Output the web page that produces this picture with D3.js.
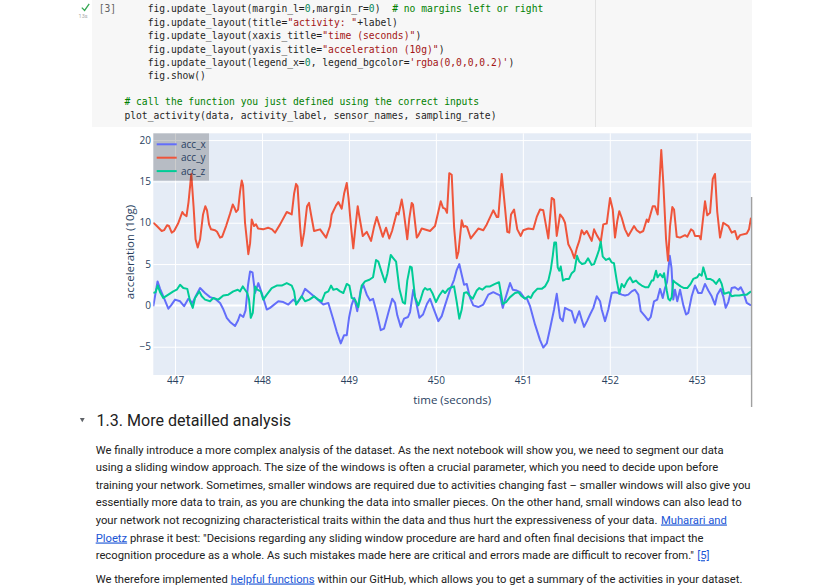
<!DOCTYPE html>
<html><head><meta charset="utf-8">
<script src="https://cdn.jsdelivr.net/npm/d3@7"></script>
<style>html,body{margin:0;padding:0;background:#fff;}svg{display:block;}</style>
</head><body>
<svg id="c" width="830" height="587"></svg>
<script>
// ---------------- data ----------------
const sensorNames = ["acc_x", "acc_y", "acc_z"];
const xTicks = [447, 448, 449, 450, 451, 452, 453];
const yTicks = [-5, 0, 5, 10, 15, 20];

const timeX = [446.750,446.799,446.828,446.865,446.923,446.954,447.000,447.058,447.104,447.153,
447.201,447.242,447.288,447.345,447.403,447.460,447.518,447.552,447.595,447.633,
447.690,447.725,447.748,447.785,447.811,447.840,447.863,447.891,447.920,447.958,
447.997,448.055,448.093,448.188,448.245,448.303,448.360,448.406,448.457,448.495,
448.553,448.630,448.705,448.763,448.814,448.860,448.906,448.944,448.975,449.001,
449.032,449.061,449.096,449.136,449.165,449.205,449.243,449.277,449.320,449.366,
449.404,449.453,449.498,449.530,449.556,449.596,449.634,449.680,449.703,449.740,
449.772,449.810,449.852,449.898,449.933,449.967,450.028,450.067,450.105,450.163,
450.209,450.240,450.269,450.297,450.324,450.355,450.393,450.430,450.488,450.545,
450.603,450.660,450.700,450.738,450.769,450.795,450.853,450.884,450.930,450.968,
451.017,451.048,451.083,451.140,451.198,451.235,451.275,451.313,451.359,451.390,
451.428,451.459,451.485,451.523,451.562,451.600,451.649,451.677,451.704,451.738,
451.773,451.811,451.850,451.888,451.907,451.945,451.983,452.022,452.060,452.098,
452.137,452.175,452.213,452.252,452.290,452.328,452.356,452.405,452.443,452.471,
452.509,452.546,452.578,452.609,452.635,452.658,452.690,452.710,452.730,452.750,
452.776,452.808,452.846,452.877,452.903,452.942,452.980,453.018,453.057,453.095,
453.133,453.172,453.210,453.236,453.276,453.305,453.333,453.363,453.402,453.440,
453.478,453.506,453.535,453.575,453.624];
const accX = [-0.1,2.9,2.0,1.1,-0.4,0.0,0.7,0.5,-0.1,0.8,
0.3,1.2,2.1,1.5,1.0,0.8,0.3,-0.4,-1.5,-2.0,
-2.5,-1.8,-1.1,-1.4,-0.6,2.5,4.1,4.0,1.5,2.7,
1.5,-0.5,-0.3,0.5,0.4,0.1,0.7,0.3,1.1,2.0,
1.5,0.8,0.1,0.3,-1.5,-3.2,-4.6,-3.6,-3.6,-1.5,
0.1,0.9,-0.7,1.9,2.5,1.3,0.6,0.8,-0.9,-3.0,
-2.8,-0.9,0.8,0.3,-1.2,-2.6,-1.6,-1.4,-0.8,1.9,
0.4,-1.5,-1.1,0.2,0.8,-0.2,-1.9,-1.3,0.0,1.9,
3.1,4.3,5.0,3.7,2.5,2.6,0.9,0.0,-0.2,0.1,
1.3,1.6,1.4,1.2,-0.3,0.7,2.7,1.9,1.8,1.6,
0.9,0.8,-0.1,-2.3,-4.2,-5.1,-4.6,-2.8,-0.5,1.4,
-1.5,-1.9,-0.3,-0.5,-0.7,-2.1,-0.7,-1.7,-2.6,-1.9,
-1.1,-0.3,1.1,0.5,-0.5,-1.9,-0.5,1.5,1.6,1.5,
1.3,1.2,1.3,1.7,1.9,1.3,-0.7,-1.3,-1.8,-1.4,
0.5,0.7,2.0,0.9,2.1,2.8,6.0,4.5,0.7,1.9,
0.5,1.9,0.0,-1.1,-0.9,1.1,2.4,1.5,1.5,2.6,
1.8,1.1,0.1,1.3,2.0,1.1,-0.3,0.4,2.1,2.2,
1.9,2.2,1.6,0.3,0.0];

const timeY = [446.750,446.782,446.847,446.874,446.908,446.931,446.962,446.989,447.035,447.084,
447.104,447.132,447.155,447.187,447.213,447.236,447.261,447.288,447.322,447.348,
447.368,447.391,447.414,447.460,447.483,447.518,447.541,447.587,447.633,447.664,
447.684,447.702,447.725,447.748,447.767,447.782,447.805,447.843,447.863,447.882,
447.909,447.932,447.955,448.012,448.070,448.116,448.150,448.208,448.285,448.342,
448.369,448.392,448.409,448.438,448.457,448.484,448.518,448.541,448.564,448.599,
448.668,448.737,448.783,448.802,448.852,448.878,448.917,448.944,448.975,448.995,
449.024,449.050,449.070,449.101,449.116,449.159,449.205,449.254,449.289,449.320,
449.346,449.389,449.427,449.464,449.496,449.550,449.570,449.607,449.628,449.671,
449.694,449.722,449.737,449.780,449.795,449.837,449.933,449.990,450.056,450.082,
450.105,450.128,450.154,450.182,450.209,450.240,450.260,450.297,450.318,450.335,
450.358,450.401,450.430,450.488,450.545,450.585,450.660,450.700,450.718,450.757,
450.795,450.821,450.844,450.864,450.899,450.936,450.976,451.005,451.063,451.120,
451.160,451.198,451.235,451.293,451.332,451.359,451.390,451.428,451.459,451.485,
451.523,451.562,451.592,451.620,451.649,451.677,451.704,451.735,451.764,451.792,
451.819,451.850,451.896,451.925,451.965,452.003,452.034,452.060,452.086,452.109,
452.137,452.175,452.213,452.279,452.310,452.348,452.385,452.425,452.443,452.494,
452.520,452.551,452.592,452.615,452.647,452.670,452.693,452.719,452.739,452.770,
452.808,452.865,452.891,452.934,452.960,452.980,453.029,453.046,453.095,453.121,
453.153,453.184,453.210,453.236,453.268,453.305,453.363,453.402,453.440,453.467,
453.498,453.575,453.601,453.624];
const accY = [10.0,9.7,9.0,9.1,9.7,9.6,8.8,9.0,9.9,11.3,
11.0,10.8,12.5,15.9,12.0,8.0,7.0,8.0,11.0,12.0,
11.5,9.8,9.2,9.1,8.9,8.2,8.3,9.6,11.1,12.2,
11.8,11.3,11.6,13.8,15.1,14.5,10.0,6.2,7.5,10.4,
9.6,9.8,9.3,9.2,9.4,9.2,8.8,9.8,11.3,11.0,
13.5,14.7,14.4,9.5,7.2,8.8,12.0,12.4,11.0,9.0,
9.2,8.2,9.6,11.0,12.1,12.5,11.7,13.5,14.8,13.0,
9.5,6.9,9.0,12.0,11.0,8.4,8.9,7.8,9.5,10.7,
9.8,8.3,9.4,8.1,9.0,11.2,11.0,12.8,11.5,8.0,
10.5,12.4,12.2,8.2,8.4,9.3,9.0,9.6,12.6,11.8,
11.7,11.2,16.0,15.8,9.5,5.7,6.5,10.3,9.5,9.6,
9.5,8.1,8.5,9.3,9.1,9.8,11.5,10.7,10.7,15.9,
11.8,8.9,8.8,11.0,11.6,9.2,8.4,9.1,9.3,9.2,
10.7,11.6,11.5,8.1,13.0,12.8,8.4,11.0,10.6,10.0,
7.4,6.6,5.7,6.9,7.8,9.1,8.6,9.0,8.4,7.8,
9.2,8.5,7.7,9.8,9.9,13.0,11.6,8.2,10.2,11.4,
10.6,9.2,8.4,9.6,9.1,8.8,9.0,10.4,10.1,12.0,
12.0,11.0,18.8,14.9,8.0,5.4,9.6,11.9,11.6,8.3,
8.2,8.5,8.3,9.2,9.0,8.4,8.4,8.0,12.6,10.9,
11.2,15.3,15.9,11.3,8.2,10.0,9.6,8.8,9.0,8.0,
8.5,8.7,9.2,10.6];

const timeZ = [446.750,446.776,446.801,446.828,446.865,446.923,446.980,447.020,447.058,447.095,
447.141,447.173,447.204,447.230,447.279,447.307,447.345,447.403,447.440,447.498,
447.555,447.613,447.670,447.721,447.748,447.779,447.805,447.831,447.851,447.871,
447.894,447.920,447.946,447.986,448.015,448.055,448.112,448.170,448.227,448.285,
448.342,448.369,448.392,448.418,448.457,448.495,448.544,448.599,448.648,448.687,
448.725,448.763,448.794,448.820,448.860,448.898,448.936,448.975,449.005,449.032,
449.070,449.108,449.147,449.185,449.235,449.277,449.312,449.338,449.377,449.415,
449.441,449.481,449.511,449.542,449.580,449.619,449.645,449.671,449.703,449.722,
449.760,449.798,449.826,449.855,449.875,449.901,449.933,449.964,450.001,450.039,
450.079,450.105,450.143,450.182,450.209,450.240,450.269,450.297,450.324,450.355,
450.384,450.424,450.470,450.499,450.534,450.577,450.623,450.680,450.726,450.746,
450.769,450.807,450.853,450.910,450.948,450.987,451.025,451.063,451.091,451.120,
451.166,451.217,451.255,451.293,451.321,451.344,451.362,451.382,451.401,451.420,
451.436,451.462,451.497,451.531,451.562,451.594,451.623,451.649,451.680,451.715,
451.750,451.792,451.819,451.850,451.876,451.896,451.919,451.957,451.994,452.022,
452.048,452.080,452.109,452.137,452.164,452.202,452.233,452.264,452.302,452.328,
452.367,452.405,452.443,452.482,452.501,452.532,452.549,452.578,452.609,452.624,
452.655,452.673,452.693,452.712,452.730,452.750,452.776,452.815,452.854,452.891,
452.930,452.960,453.006,453.029,453.057,453.075,453.114,453.153,453.190,453.222,
453.260,453.287,453.314,453.345,453.371,453.402,453.440,453.489,453.535,453.575,
453.613,453.624];
const accZ = [1.5,1.6,2.4,1.6,0.9,1.3,1.7,1.9,2.5,2.1,
2.0,0.5,-0.3,0.9,1.7,1.1,0.7,0.5,0.9,0.7,
1.2,1.3,1.7,1.9,1.7,2.3,1.9,1.5,0.7,-1.5,
-0.9,2.3,1.9,1.7,0.7,1.3,2.1,2.4,2.4,2.7,
2.4,1.7,0.1,0.5,1.1,0.5,0.7,1.1,0.7,0.5,
1.5,1.7,2.4,1.9,2.0,1.7,1.5,2.6,2.4,0.9,
0.7,-0.2,2.4,2.9,3.1,3.4,5.5,5.3,4.0,2.8,
3.8,6.1,5.7,5.3,2.0,0.4,0.2,3.0,4.7,4.6,
1.0,0.0,0.8,1.8,2.1,1.9,2.0,1.4,0.4,1.2,
1.8,1.5,2.0,2.2,2.3,0.4,-1.6,-0.5,1.5,1.6,
1.2,0.8,1.8,2.1,1.9,2.3,2.3,2.6,2.8,1.6,
0.2,0.4,1.0,1.5,1.6,1.1,0.8,1.1,0.9,1.5,
2.0,2.0,2.3,3.0,4.3,6.0,7.6,7.6,4.6,4.2,
4.7,3.0,3.2,3.2,3.9,4.2,6.0,5.3,5.0,5.1,
5.7,4.9,5.0,5.9,6.7,7.7,5.9,5.5,5.7,5.2,
5.1,3.0,1.4,2.6,2.2,3.0,3.4,2.8,3.0,2.7,
2.4,2.2,2.2,3.0,3.0,4.2,3.4,3.8,3.4,3.9,
1.8,0.8,0.6,1.0,3.0,2.8,2.6,2.3,2.1,2.1,
2.6,3.2,3.4,3.8,3.6,4.6,3.2,3.2,3.0,2.6,
3.2,2.6,1.4,1.5,1.6,1.1,1.2,1.2,1.3,1.3,
1.6,1.7];

// ---------------- page ----------------
const svg = d3.select("#c");
svg.append("rect").attr("width", 830).attr("height", 587).attr("fill", "#fff");

// code cell
svg.append("rect").attr("x", 92).attr("y", 0).attr("width", 660).attr("height", 127).attr("fill", "#f7f7f7");
svg.append("line").attr("x1", 595.5).attr("x2", 595.5).attr("y1", 0).attr("y2", 127).attr("stroke", "#e2e2e2");

const codeColors = {k: "#1f1f1f", n: "#09885a", s: "#a31515", c: "#008000"};
const codeLines = [
  {ind: 1, y: 9, segs: [["fig.update_layout(margin_l=", "k"], ["0", "n"], [",margin_r=", "k"], ["0", "n"], [")  ", "k"], ["# no margins left or right", "c"]]},
  {ind: 1, y: 22.7, segs: [["fig.update_layout(title=", "k"], ["\"activity: \"", "s"], ["+label)", "k"]]},
  {ind: 1, y: 36, segs: [["fig.update_layout(xaxis_title=", "k"], ["\"time (seconds)\"", "s"], [")", "k"]]},
  {ind: 1, y: 49.3, segs: [["fig.update_layout(yaxis_title=", "k"], ["\"acceleration (10g)\"", "s"], [")", "k"]]},
  {ind: 1, y: 62.7, segs: [["fig.update_layout(legend_x=", "k"], ["0", "n"], [", legend_bgcolor=", "k"], ["'rgba(0,0,0,0.2)'", "s"], [")", "k"]]},
  {ind: 1, y: 76, segs: [["fig.show()", "k"]]},
  {ind: 0, y: 102, segs: [["# call the function you just defined using the correct inputs", "c"]]},
  {ind: 0, y: 115.7, segs: [["plot_activity(data, activity_label, sensor_names, sampling_rate)", "k"]]}
];
const cw = 5.82;
const codeG = svg.append("g").attr("font-family", "'DejaVu Sans Mono', monospace").attr("font-size", (cw / 0.602).toFixed(2) + "px");
codeLines.forEach(l => {
  let col = 0;
  const x0 = l.ind ? 147.7 : 124.4;
  l.segs.forEach(([t, c]) => {
    const tt = t.replace(/\s+$/, "");
    if (tt.length) {
      codeG.append("text").attr("x", x0 + col * cw).attr("y", l.y + 3.2)
        .attr("fill", codeColors[c]).text(tt);
    }
    col += t.length;
  });
});
codeG.append("text").attr("x", 98.7).attr("y", 12.2).attr("fill", "#616161").text("[3]");
svg.append("path").attr("d", "M81.8,7.6 L84.6,10.4 L89.2,3.8").attr("fill", "none").attr("stroke", "#34a853").attr("stroke-width", 1.3);
svg.append("text").attr("x", 78.6).attr("y", 17.6).attr("font-family", "Roboto, sans-serif").attr("font-size", "5.5px").attr("fill", "#aaa").text("13s");

// ---------------- chart ----------------
const L = 153.3, R = 751, T = 133.3, B = 375;
const x = d3.scaleLinear().domain([446.75, 453.624]).range([L, R]);
const y = d3.scaleLinear().domain([-8.42, 20.82]).range([B, T]);
const fontP = "'Open Sans', verdana, arial, sans-serif";
const txtC = "#2a3f5f";

const chart = svg.append("g");
chart.append("rect").attr("x", L).attr("y", T).attr("width", R - L).attr("height", B - T).attr("fill", "#E5ECF6");

// grid
const gxg = chart.append("g").attr("transform", `translate(0,${B})`)
  .call(d3.axisBottom(x).tickValues(xTicks).tickSize(-(B - T)).tickFormat(""));
gxg.select(".domain").remove();
gxg.selectAll("line").attr("stroke", "#fff").attr("stroke-width", 1);
const gyg = chart.append("g").attr("transform", `translate(${L},0)`)
  .call(d3.axisLeft(y).tickValues(yTicks.filter(v => v !== 0)).tickSize(-(R - L)).tickFormat(""));
gyg.select(".domain").remove();
gyg.selectAll("line").attr("stroke", "#fff").attr("stroke-width", 1);
chart.append("line").attr("x1", L).attr("x2", R).attr("y1", y(0)).attr("y2", y(0)).attr("stroke", "#fff").attr("stroke-width", 2);

// tick labels
const xl = chart.append("g").attr("transform", `translate(0,${B})`)
  .call(d3.axisBottom(x).tickValues(xTicks).tickSize(0).tickPadding(2.3).tickFormat(d3.format("d")));
xl.select(".domain").remove();
xl.selectAll("text").attr("font-family", fontP).attr("font-size", "10px").attr("fill", txtC);
const yl = chart.append("g").attr("transform", `translate(${L},0)`)
  .call(d3.axisLeft(y).tickValues(yTicks).tickSize(0).tickPadding(2.3).tickFormat(d => d < 0 ? "\u2212" + Math.abs(d) : d));
yl.select(".domain").remove();
yl.selectAll("text").attr("font-family", fontP).attr("font-size", "10px").attr("fill", txtC);

// axis titles
chart.append("text").attr("x", (L + R) / 2).attr("y", 403.5).attr("text-anchor", "middle")
  .attr("font-family", fontP).attr("font-size", "11.5px").attr("fill", txtC).text("time (seconds)");
chart.append("text").attr("transform", "translate(133.5,252) rotate(-90)").attr("text-anchor", "middle")
  .attr("font-family", fontP).attr("font-size", "11.5px").attr("fill", txtC).text("acceleration (10g)");

// lines
svg.append("defs").append("clipPath").attr("id", "clip").append("rect")
  .attr("x", L).attr("y", T).attr("width", R - L).attr("height", B - T);
const series = [
  {name: sensorNames[0], t: timeX, v: accX, color: "#636EFA"},
  {name: sensorNames[1], t: timeY, v: accY, color: "#EF553B"},
  {name: sensorNames[2], t: timeZ, v: accZ, color: "#00CC96"}
];
const line = d3.line().x(d => x(d[0])).y(d => y(d[1])).curve(d3.curveLinear);
const lg = chart.append("g").attr("clip-path", "url(#clip)");
series.forEach(s => {
  const pts = s.t.map((t, i) => [t, s.v[i]]);
  lg.append("path").attr("d", line(pts)).attr("fill", "none").attr("stroke", s.color)
    .attr("stroke-width", 2).attr("stroke-linejoin", "round");
});

// legend
const leg = chart.append("g");
leg.append("rect").attr("x", L).attr("y", T).attr("width", 55.7).attr("height", 47.4).attr("fill", "rgba(0,0,0,0.2)");
series.forEach((s, i) => {
  const cy = 144.3 + i * 13.4;
  leg.append("line").attr("x1", 156.7).attr("x2", 176.7).attr("y1", cy).attr("y2", cy).attr("stroke", s.color).attr("stroke-width", 2);
  leg.append("text").attr("x", 181).attr("y", cy + 3.6).attr("font-family", fontP).attr("font-size", "10px").attr("fill", txtC).text(s.name);
});

// output scrollbar edge
svg.append("line").attr("x1", 751.6).attr("x2", 751.6).attr("y1", 197).attr("y2", 407).attr("stroke", "#a0a0a0").attr("stroke-width", 1.4);

// ---------------- markdown ----------------
const pFont = "Roboto, sans-serif";
const meas = svg.append("text").attr("font-family", pFont).attr("font-size", "100px")
  .attr("xml:space", "preserve").style("white-space", "pre").attr("opacity", 0);
function widthAt100(s) { meas.text(s); return meas.node().getComputedTextLength(); }

svg.append("path").attr("d", "M79.9,417.9 L84.7,417.9 L82.3,422.2 Z").attr("fill", "#5f6368");
const headText = "1.3. More detailled analysis";
const headSize = Math.min(18, 194.6 / widthAt100(headText) * 100);
svg.append("text").attr("x", 96.6).attr("y", 426.2).attr("font-family", pFont)
  .attr("font-size", headSize.toFixed(2) + "px").attr("fill", "#212121").text(headText);

const paraLines = [
  [["We finally introduce a more complex analysis of the dataset. As the next notebook will show you, we need to segment our data"]],
  [["using a sliding window approach. The size of the windows is often a crucial parameter, which you need to decide upon before"]],
  [["training your network. Sometimes, smaller windows are required due to activities changing fast \u2013 smaller windows will also give you"]],
  [["essentially more data to train, as you are chunking the data into smaller pieces. On the other hand, small windows can also lead to"]],
  [["your network not recognizing characteristical traits within the data and thus hurt the expressiveness of your data."], [" "], ["Muharari and", 1]],
  [["Ploetz", 1], [" "], ["phrase it best: \"Decisions regarding any sliding window procedure are hard and often final decisions that impact the"]],
  [["recognition procedure as a whole. As such mistakes made here are critical and errors made are difficult to recover from.\""], [" "], ["[5]", 1]],
  [["We therefore implemented"], [" "], ["helpful functions", 1], [" "], ["within our GitHub, which allows you to get a summary of the activities in your dataset."]]
];
const paraRight = [724.3, 718.5, 751, 742, 727, 704, 709.5, 743];
const paraY = [449.3, 466.7, 484.3, 501.7, 519.3, 537.3, 555, 578.3];
const space100 = widthAt100("a a") - widthAt100("aa");
paraLines.forEach((segs, i) => {
  const w100 = segs.map(([s]) => s === " " ? space100 : widthAt100(s));
  const fs = (paraRight[i] - 95.7) / d3.sum(w100) * 100;
  let cx = 95.7;
  segs.forEach(([s, link], j) => {
    const w = w100[j] * fs / 100;
    if (s !== " ") {
      const t = svg.append("text").attr("x", cx).attr("y", paraY[i] + 4.2)
        .attr("font-family", pFont).attr("font-size", fs.toFixed(3) + "px")
        .attr("fill", link ? "#1a55d6" : "#212121").text(s);
      if (link) t.style("text-decoration", "underline");
    }
    cx += w;
  });
});
meas.remove();
</script>
</body></html>
